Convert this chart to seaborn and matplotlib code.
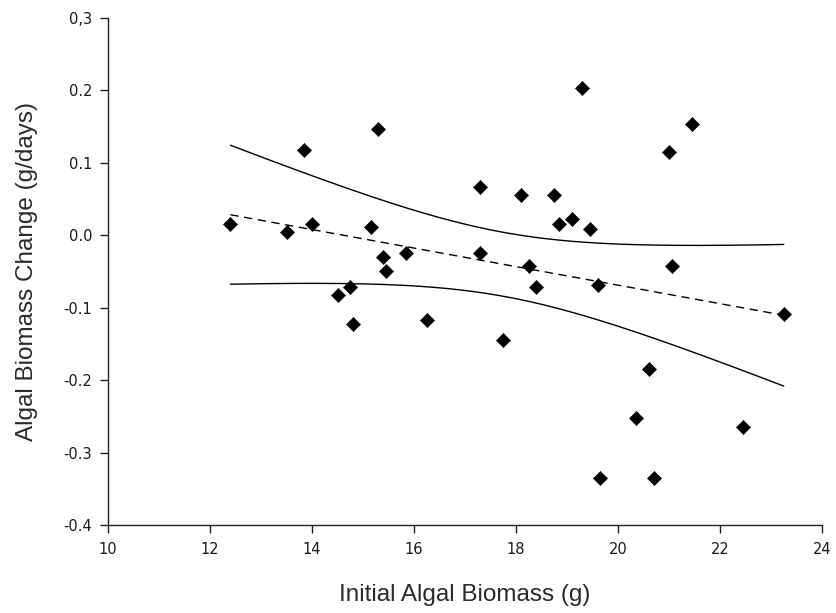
import numpy as np
import pandas as pd
import matplotlib
matplotlib.use("Agg")
import matplotlib.pyplot as plt
import seaborn as sns

# Data
initial_biomass = [12.4, 13.5, 13.85, 14.0, 14.5, 14.75, 14.8, 15.15, 15.3, 15.4,
                   15.45, 15.85, 16.25, 17.3, 17.3, 17.75, 18.1, 18.25, 18.4, 18.75,
                   18.85, 19.1, 19.3, 19.45, 19.6, 19.65, 20.35, 20.6, 20.7, 21.0,
                   21.05, 21.45, 22.45, 23.25]
biomass_change = [0.015, 0.005, 0.118, 0.015, -0.082, -0.072, -0.122, 0.012, 0.147, -0.030,
                  -0.050, -0.024, -0.117, 0.067, -0.025, -0.145, 0.055, -0.042, -0.072, 0.055,
                  0.015, 0.022, 0.203, 0.008, -0.068, -0.335, -0.252, -0.185, -0.335, 0.115,
                  -0.042, 0.153, -0.265, -0.108]
x_ticks = [10, 12, 14, 16, 18, 20, 22, 24]
y_ticks = [-0.4, -0.3, -0.2, -0.1, 0.0, 0.1, 0.2, 0.3]
y_tick_labels = ["-0.4", "-0.3", "-0.2", "-0.1", "0.0", "0.1", "0.2", "0,3"]

df = pd.DataFrame({"x": initial_biomass, "y": biomass_change})

# Linear regression with 95% confidence band
x = np.asarray(initial_biomass)
y = np.asarray(biomass_change)
n = len(x)
b1, b0 = np.polyfit(x, y, 1)
resid = y - (b0 + b1 * x)
s = np.sqrt(np.sum(resid ** 2) / (n - 2))
t = 2.0369  # t(0.975, 32)
xs = np.linspace(x.min(), x.max(), 200)
yfit = b0 + b1 * xs
se = s * np.sqrt(1 / n + (xs - x.mean()) ** 2 / np.sum((x - x.mean()) ** 2))
fit_df = pd.DataFrame({"x": xs, "fit": yfit, "upper": yfit + t * se, "lower": yfit - t * se})

sns.set_style("ticks")
plt.rcParams["font.family"] = ["Liberation Sans", "DejaVu Sans"]

fig = plt.figure(figsize=(8.36, 6.13), dpi=100)
ax = fig.add_axes([108 / 836, 1 - 525 / 613, (822 - 108) / 836, (525 - 18) / 613])

sns.lineplot(data=fit_df, x="x", y="fit", ax=ax, color="black", lw=1.0,
             linestyle=(0, (6, 4)))
sns.lineplot(data=fit_df, x="x", y="upper", ax=ax, color="black", lw=1.0)
sns.lineplot(data=fit_df, x="x", y="lower", ax=ax, color="black", lw=1.0)
sns.scatterplot(data=df, x="x", y="y", ax=ax, marker="D", s=52, color="black",
                edgecolor="black", linewidth=0.4, zorder=5)

ax.set_xlim(10, 24)
ax.set_ylim(-0.4, 0.3)
ax.set_xticks(x_ticks)
ax.set_xticklabels([str(v) for v in x_ticks])
ax.set_yticks(y_ticks)
ax.set_yticklabels(y_tick_labels)
ax.tick_params(axis="both", direction="out", length=5.5, width=1, colors="#222222")
ax.tick_params(axis="y", pad=6)
ax.tick_params(axis="x", pad=7)
for lab in ax.get_xticklabels() + ax.get_yticklabels():
    lab.set_fontfamily(["DejaVu Sans"])
    lab.set_fontsize(10.5)
    lab.set_color("#1a1a1a")
for sp in ["top", "right"]:
    ax.spines[sp].set_visible(False)
for sp in ["left", "bottom"]:
    ax.spines[sp].set_linewidth(1.0)
    ax.spines[sp].set_color("#222222")

ax.set_xlabel("Initial Algal Biomass (g)", fontsize=17.5, color="#2a2a2a")
ax.set_ylabel("Algal Biomass Change (g/days)", fontsize=17.5, color="#2a2a2a")
ax.xaxis.label.set_va("baseline")
ax.yaxis.label.set_va("baseline")
ax.xaxis.set_label_coords(0.5, (525 - 601) / 507)
ax.yaxis.set_label_coords((33 - 108) / 714, 0.5)

fig.savefig("out.png", dpi=100)
